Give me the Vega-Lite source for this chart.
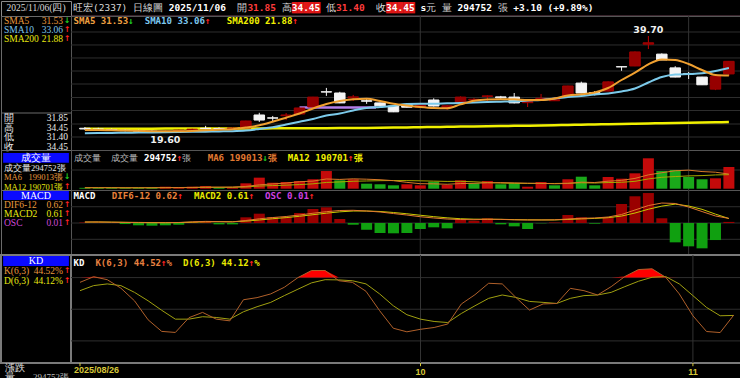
{
"$schema":"https://vega.github.io/schema/vega-lite/v6.json",
"background":"#000000",
"padding":0,
"spacing":0,
"bounds":"flush",
"columns":2,
"config":{"view":{"stroke":null},"concat":{"spacing":0}},
"datasets":{
"k":[
{"i":0,"o":20.6,"h":20.85,"l":20.3,"c":20.45,"v":12000,"vd":"d","s5":20.25,"s10":19.55,"s200":20.5,"m6":13000,"m12":14000,"dif":0.14,"mac":0.13,"osc":0.07,"K":75.5,"D":67.6,"kf":80},
{"i":1,"o":20.45,"h":20.7,"l":20.2,"c":20.35,"v":10000,"vd":"d","s5":20.22,"s10":19.6,"s200":20.5,"m6":13000,"m12":14000,"dif":0.14,"mac":0.14,"osc":0.07,"K":80.8,"D":72.4,"kf":80.8},
{"i":2,"o":20.35,"h":20.55,"l":20.05,"c":20.2,"v":14000,"vd":"d","s5":20.18,"s10":19.63,"s200":20.51,"m6":13000,"m12":14000,"dif":0.11,"mac":0.12,"osc":0.02,"K":78,"D":74,"kf":80},
{"i":3,"o":20.2,"h":20.4,"l":19.95,"c":20.1,"v":11000,"vd":"d","s5":20.12,"s10":19.67,"s200":20.51,"m6":12000,"m12":13000,"dif":0.08,"mac":0.1,"osc":-0.14,"K":70,"D":72.4,"kf":80},
{"i":4,"o":20.1,"h":20.3,"l":19.8,"c":20.0,"v":13000,"vd":"d","s5":20.06,"s10":19.7,"s200":20.52,"m6":12000,"m12":13000,"dif":0.05,"mac":0.08,"osc":-0.31,"K":58,"D":66,"kf":80},
{"i":5,"o":20.0,"h":20.2,"l":19.7,"c":19.85,"v":15000,"vd":"d","s5":20.0,"s10":19.74,"s200":20.52,"m6":12500,"m12":13000,"dif":0.04,"mac":0.06,"osc":-0.36,"K":40,"D":58,"kf":80},
{"i":6,"o":19.85,"h":20.15,"l":19.6,"c":19.95,"v":27000,"vd":"u","s5":19.97,"s10":19.78,"s200":20.53,"m6":15000,"m12":14000,"dif":0.04,"mac":0.05,"osc":-0.31,"K":29,"D":49,"kf":80},
{"i":7,"o":19.95,"h":20.3,"l":19.85,"c":20.2,"v":15000,"vd":"u","s5":19.98,"s10":19.82,"s200":20.53,"m6":16000,"m12":14500,"dif":0.07,"mac":0.06,"osc":-0.23,"K":28,"D":40.6,"kf":80},
{"i":8,"o":20.2,"h":20.5,"l":20.05,"c":20.4,"v":27000,"vd":"u","s5":20.05,"s10":19.86,"s200":20.54,"m6":18000,"m12":15500,"dif":0.16,"mac":0.11,"osc":0.14,"K":42,"D":40.6,"kf":80},
{"i":9,"o":20.6,"h":21.1,"l":20.4,"c":20.55,"v":36000,"vd":"u","s5":20.18,"s10":19.9,"s200":20.54,"m6":22000,"m12":17500,"dif":0.22,"mac":0.16,"osc":0.14,"K":47,"D":42.9,"kf":80},
{"i":10,"o":20.55,"h":20.8,"l":20.4,"c":20.5,"v":14000,"vd":"d","s5":20.3,"s10":19.95,"s200":20.55,"m6":22000,"m12":17500,"dif":0.19,"mac":0.18,"osc":-0.18,"K":40.6,"D":42.2,"kf":80},
{"i":11,"o":20.5,"h":20.75,"l":20.4,"c":20.65,"v":18000,"vd":"u","s5":20.42,"s10":20.0,"s200":20.55,"m6":23000,"m12":18000,"dif":0.16,"mac":0.17,"osc":-0.18,"K":39,"D":40.6,"kf":80},
{"i":12,"o":20.65,"h":22.15,"l":20.6,"c":22.1,"v":73000,"vd":"u","s5":20.75,"s10":20.14,"s200":20.56,"m6":31000,"m12":24000,"dif":0.34,"mac":0.26,"osc":0.77,"K":59,"D":47.6,"kf":80},
{"i":13,"o":23.35,"h":23.8,"l":21.9,"c":22.3,"v":150000,"vd":"u","s5":21.21,"s10":20.45,"s200":20.57,"m6":53000,"m12":36000,"dif":0.57,"mac":0.41,"osc":1.26,"K":61,"D":52.4,"kf":80},
{"i":14,"o":22.75,"h":23.15,"l":22.1,"c":22.7,"v":81000,"vd":"u","s5":21.96,"s10":20.8,"s200":20.58,"m6":65000,"m12":42000,"dif":0.74,"mac":0.58,"osc":0.81,"K":64.5,"D":56.5,"kf":80},
{"i":15,"o":23.2,"h":23.75,"l":22.3,"c":23.35,"v":91000,"vd":"u","s5":22.79,"s10":21.38,"s200":20.59,"m6":77000,"m12":48000,"dif":0.88,"mac":0.73,"osc":0.81,"K":70.8,"D":62.9,"kf":80},
{"i":16,"o":23.55,"h":24.85,"l":23.5,"c":24.8,"v":104000,"vd":"u","s5":23.65,"s10":21.96,"s200":20.6,"m6":95000,"m12":56000,"dif":1.08,"mac":0.91,"osc":1.35,"K":80,"D":69,"kf":80},
{"i":17,"o":25.0,"h":27.1,"l":24.9,"c":27.05,"v":128000,"vd":"u","s5":24.69,"s10":22.52,"s200":20.61,"m6":103000,"m12":66000,"dif":1.32,"mac":1.12,"osc":1.89,"K":86.7,"D":75,"kf":86.7},
{"i":18,"o":28.15,"h":28.95,"l":27.3,"c":28.1,"v":240000,"vd":"u","s5":25.62,"s10":23.24,"s200":20.62,"m6":132000,"m12":85000,"dif":1.53,"mac":1.33,"osc":2.12,"K":86.7,"D":78,"kf":86.7},
{"i":19,"o":27.9,"h":28.15,"l":25.8,"c":25.85,"v":114000,"vd":"d","s5":26.24,"s10":23.66,"s200":20.63,"m6":126000,"m12":92000,"dif":1.69,"mac":1.51,"osc":0.54,"K":77,"D":77.8,"kf":80},
{"i":20,"o":26.9,"h":27.5,"l":26.25,"c":27.1,"v":128000,"vd":"u","s5":26.59,"s10":24.28,"s200":20.64,"m6":134000,"m12":101000,"dif":1.72,"mac":1.62,"osc":-0.23,"K":75.5,"D":77,"kf":80},
{"i":21,"o":26.3,"h":26.65,"l":25.65,"c":26.2,"v":68000,"vd":"d","s5":26.7,"s10":24.79,"s200":20.66,"m6":129000,"m12":105000,"dif":1.62,"mac":1.62,"osc":-0.91,"K":67,"D":74,"kf":80},
{"i":22,"o":25.85,"h":25.9,"l":25.2,"c":25.25,"v":60000,"vd":"d","s5":26.24,"s10":25.0,"s200":20.7,"m6":122000,"m12":109000,"dif":1.49,"mac":1.56,"osc":-1.35,"K":48.6,"D":64.5,"kf":80},
{"i":23,"o":25.2,"h":25.25,"l":23.95,"c":24.0,"v":46000,"vd":"d","s5":25.68,"s10":25.21,"s200":20.74,"m6":109000,"m12":111000,"dif":1.28,"mac":1.42,"osc":-1.39,"K":32,"D":53.3,"kf":80},
{"i":24,"o":25.55,"h":25.6,"l":24.9,"c":24.95,"v":60000,"vd":"u","s5":25.31,"s10":25.62,"s200":20.78,"m6":86000,"m12":110000,"dif":1.08,"mac":1.25,"osc":-1.35,"K":28.6,"D":44.8,"kf":80},
{"i":25,"o":24.95,"h":25.45,"l":24.8,"c":25.35,"v":46000,"vd":"u","s5":25.0,"s10":25.68,"s200":20.82,"m6":68000,"m12":107000,"dif":0.85,"mac":1.05,"osc":-0.81,"K":31,"D":40.6,"kf":80},
{"i":26,"o":26.45,"h":26.8,"l":25.1,"c":25.2,"v":95000,"vd":"d","s5":24.79,"s10":25.68,"s200":20.86,"m6":66000,"m12":103000,"dif":0.68,"mac":0.86,"osc":-0.58,"K":32.7,"D":38.4,"kf":80},
{"i":27,"o":24.9,"h":25.4,"l":24.4,"c":25.25,"v":50000,"vd":"u","s5":24.73,"s10":25.77,"s200":20.9,"m6":60000,"m12":99000,"dif":0.54,"mac":0.7,"osc":-0.72,"K":36,"D":37.4,"kf":80},
{"i":28,"o":25.85,"h":27.2,"l":25.8,"c":27.05,"v":114000,"vd":"u","s5":25.54,"s10":25.83,"s200":20.94,"m6":70000,"m12":100000,"dif":0.47,"mac":0.58,"osc":0.54,"K":55,"D":46,"kf":80},
{"i":29,"o":26.45,"h":26.85,"l":26.05,"c":26.6,"v":73000,"vd":"d","s5":26.3,"s10":25.93,"s200":20.98,"m6":73000,"m12":94000,"dif":0.45,"mac":0.52,"osc":0.31,"K":63.8,"D":53.3,"kf":80},
{"i":30,"o":27.2,"h":27.4,"l":26.25,"c":27.3,"v":104000,"vd":"u","s5":26.55,"s10":26.03,"s200":21.02,"m6":80000,"m12":84000,"dif":0.51,"mac":0.51,"osc":0.64,"K":74.6,"D":60.3,"kf":80},
{"i":31,"o":27.1,"h":27.3,"l":26.7,"c":26.9,"v":60000,"vd":"d","s5":26.59,"s10":26.1,"s200":21.06,"m6":83000,"m12":76000,"dif":0.49,"mac":0.5,"osc":-0.18,"K":74,"D":63.5,"kf":80},
{"i":32,"o":27.05,"h":27.9,"l":25.75,"c":25.85,"v":73000,"vd":"d","s5":26.59,"s10":26.18,"s200":21.1,"m6":79000,"m12":73000,"dif":0.43,"mac":0.46,"osc":-0.45,"K":61.2,"D":61.2,"kf":80},
{"i":33,"o":25.9,"h":26.25,"l":25.0,"c":26.1,"v":27000,"vd":"u","s5":26.45,"s10":26.35,"s200":21.14,"m6":75000,"m12":71000,"dif":0.41,"mac":0.43,"osc":-0.81,"K":49.2,"D":57.4,"kf":80},
{"i":34,"o":26.6,"h":27.7,"l":26.25,"c":26.8,"v":91000,"vd":"u","s5":26.45,"s10":26.45,"s200":21.18,"m6":73000,"m12":71000,"dif":0.41,"mac":0.42,"osc":-0.04,"K":55,"D":56.5,"kf":80},
{"i":35,"o":26.3,"h":27.05,"l":26.25,"c":26.5,"v":46000,"vd":"d","s5":26.76,"s10":26.76,"s200":21.23,"m6":67000,"m12":71000,"dif":0.43,"mac":0.42,"osc":0.07,"K":55.5,"D":55.5,"kf":80},
{"i":36,"o":27.3,"h":29.4,"l":27.2,"c":29.35,"v":128000,"vd":"u","s5":27.38,"s10":27.07,"s200":21.28,"m6":71000,"m12":74000,"dif":0.54,"mac":0.48,"osc":1.08,"K":69.8,"D":60.3,"kf":80},
{"i":37,"o":29.95,"h":30.25,"l":27.85,"c":27.9,"v":163000,"vd":"d","s5":27.63,"s10":27.28,"s200":21.33,"m6":89000,"m12":80000,"dif":0.64,"mac":0.56,"osc":0.77,"K":67.6,"D":62.9,"kf":80},
{"i":38,"o":28.0,"h":28.3,"l":27.4,"c":27.6,"v":46000,"vd":"d","s5":28.0,"s10":27.59,"s200":21.38,"m6":84000,"m12":77000,"dif":0.68,"mac":0.62,"osc":-0.09,"K":63.5,"D":63.5,"kf":80},
{"i":39,"o":28.3,"h":30.3,"l":28.25,"c":30.2,"v":159000,"vd":"u","s5":28.93,"s10":27.8,"s200":21.43,"m6":102000,"m12":84000,"dif":0.81,"mac":0.72,"osc":0.77,"K":71.4,"D":66,"kf":80},
{"i":40,"o":33.35,"h":33.35,"l":32.5,"c":33.3,"v":136000,"vd":"u","s5":30.59,"s10":28.21,"s200":21.48,"m6":113000,"m12":87000,"dif":1.15,"mac":0.94,"osc":2.57,"K":81,"D":71.4,"kf":81},
{"i":41,"o":33.5,"h":36.5,"l":33.45,"c":36.4,"v":209000,"vd":"u","s5":32.1,"s10":28.83,"s200":21.53,"m6":140000,"m12":100000,"dif":1.76,"mac":1.35,"osc":3.61,"K":87.6,"D":76.5,"kf":87.6},
{"i":42,"o":38.0,"h":39.7,"l":37.0,"c":38.3,"v":413000,"vd":"u","s5":33.84,"s10":30.07,"s200":21.59,"m6":188000,"m12":133000,"dif":2.36,"mac":1.86,"osc":4.05,"K":88.3,"D":80.3,"kf":88.3},
{"i":43,"o":35.95,"h":36.1,"l":34.7,"c":34.75,"v":240000,"vd":"d","s5":34.83,"s10":31.21,"s200":21.64,"m6":217000,"m12":155000,"dif":2.7,"mac":2.28,"osc":0.64,"K":80.3,"D":81,"kf":80.3},
{"i":44,"o":33.1,"h":33.45,"l":31.15,"c":31.2,"v":254000,"vd":"d","s5":34.73,"s10":31.73,"s200":21.69,"m6":244000,"m12":165000,"dif":2.64,"mac":2.55,"osc":-2.61,"K":64.5,"D":74,"kf":80},
{"i":45,"o":31.95,"h":32.25,"l":30.8,"c":31.85,"v":159000,"vd":"d","s5":33.9,"s10":31.83,"s200":21.74,"m6":252000,"m12":174000,"dif":2.16,"mac":2.3,"osc":-3.15,"K":43.8,"D":62.9,"kf":80},
{"i":46,"o":31.2,"h":31.25,"l":29.55,"c":29.6,"v":128000,"vd":"d","s5":32.66,"s10":31.98,"s200":21.79,"m6":233000,"m12":178000,"dif":1.55,"mac":1.85,"osc":-3.42,"K":28.9,"D":51.7,"kf":80},
{"i":47,"o":28.7,"h":31.4,"l":28.5,"c":31.35,"v":141000,"vd":"u","s5":31.63,"s10":32.45,"s200":21.84,"m6":224000,"m12":187000,"dif":0.95,"mac":1.2,"osc":-2.3,"K":27.9,"D":43.8,"kf":80},
{"i":48,"o":31.85,"h":34.45,"l":31.4,"c":34.45,"v":294752,"vd":"u","s5":31.53,"s10":33.06,"s200":21.88,"m6":199013,"m12":190701,"dif":0.62,"mac":0.61,"osc":0.15,"K":44.52,"D":44.12,"kf":80}
],
"mo":[{"i":0,"t":"2025/08/26"},{"i":25,"t":"10"},{"i":45,"t":"11"}],
"hdrReg":[
{"k":"bg","t":"\u2060\u3000\u3000\u00a0\u00a0\u00a0\u00a0\u00a0\u00a0\u00a0\u3000\u3000\u3000\u00a0\u00a0\u00a0\u00a0\u00a0\u00a0\u00a0\u00a0\u00a0\u00a0\u00a0\u00a0\u00a0\u3000\u00a0\u00a0\u00a0\u00a0\u00a0\u00a0\u3000\u2588\u2588\u2588\u2588\u2588\u00a0\u3000\u00a0\u00a0\u00a0\u00a0\u00a0\u00a0\u00a0\u3000\u2588\u2588\u2588\u2588\u2588"},
{"k":"reg","t":"旺宏(2337)\u00a0日線圖\u00a0\u00a0\u00a0\u00a0\u00a0\u00a0\u00a0\u00a0\u00a0\u00a0\u00a0\u00a0\u00a0開\u00a0\u00a0\u00a0\u00a0\u00a0\u00a0高\u00a0\u00a0\u00a0\u00a0\u00a0\u00a0低\u00a0\u00a0\u00a0\u00a0\u00a0\u00a0\u00a0收\u00a0\u00a0\u00a0\u00a0\u00a0\u00a0\u00a0元\u00a0量\u00a0\u00a0\u00a0\u00a0\u00a0\u00a0\u00a0\u00a0張"}
],
"hdrBold":[
{"k":"bold","t":"\u2060\u3000\u3000\u00a0\u00a0\u00a0\u00a0\u00a0\u00a0\u00a0\u3000\u3000\u3000\u00a02025/11/06\u00a0\u00a0\u3000\u00a0\u00a0\u00a0\u00a0\u00a0\u00a0\u300034.45\u00a0\u3000\u00a0\u00a0\u00a0\u00a0\u00a0\u00a0\u00a0\u300034.45\u00a0s\u3000\u00a0\u3000\u00a0294752\u00a0\u3000\u00a0+3.10 (+9.89%)"},
{"k":"red","t":"\u2060\u3000\u3000\u00a0\u00a0\u00a0\u00a0\u00a0\u00a0\u00a0\u3000\u3000\u3000\u00a0\u00a0\u00a0\u00a0\u00a0\u00a0\u00a0\u00a0\u00a0\u00a0\u00a0\u00a0\u00a0\u300031.85\u00a0\u3000\u00a0\u00a0\u00a0\u00a0\u00a0\u00a0\u300031.40"}
],
"legP":[
{"k":"o","t":"SMA5 31.53"},
{"k":"gn","t":"\u2060\u00a0\u00a0\u00a0\u00a0\u00a0\u00a0\u00a0\u00a0\u00a0\u00a0\u2193"},
{"k":"b","t":"\u2060\u00a0\u00a0\u00a0\u00a0\u00a0\u00a0\u00a0\u00a0\u00a0\u00a0\u00a0\u00a0\u00a0SMA10 33.06"},
{"k":"r","t":"\u2060\u00a0\u00a0\u00a0\u00a0\u00a0\u00a0\u00a0\u00a0\u00a0\u00a0\u00a0\u00a0\u00a0\u00a0\u00a0\u00a0\u00a0\u00a0\u00a0\u00a0\u00a0\u00a0\u00a0\u00a0\u2191\u00a0\u00a0\u00a0\u00a0\u00a0\u00a0\u00a0\u00a0\u00a0\u00a0\u00a0\u00a0\u00a0\u00a0\u00a0\u2191"},
{"k":"y","t":"\u2060\u00a0\u00a0\u00a0\u00a0\u00a0\u00a0\u00a0\u00a0\u00a0\u00a0\u00a0\u00a0\u00a0\u00a0\u00a0\u00a0\u00a0\u00a0\u00a0\u00a0\u00a0\u00a0\u00a0\u00a0\u00a0\u00a0\u00a0\u00a0SMA200 21.88"}
],
"legVr":[
{"k":"gy","t":"成交量\u00a0\u00a0成交量\u00a0\u00a0\u00a0\u00a0\u00a0\u00a0\u00a0\u00a0張"}
],
"legVb":[
{"k":"w","t":"\u2060\u3000\u3000\u3000\u00a0\u00a0\u3000\u3000\u3000\u00a0294752"},
{"k":"r","t":"\u2060\u3000\u3000\u3000\u00a0\u00a0\u3000\u3000\u3000\u00a0\u00a0\u00a0\u00a0\u00a0\u00a0\u00a0\u2191\u3000\u00a0\u00a0\u00a0\u00a0\u00a0\u00a0\u00a0\u00a0\u00a0\u00a0\u00a0\u00a0\u00a0\u00a0\u3000\u00a0\u00a0\u00a0\u00a0\u00a0\u00a0\u00a0\u00a0\u00a0\u00a0\u00a0\u00a0\u00a0\u2191"},
{"k":"o","t":"\u2060\u3000\u3000\u3000\u00a0\u00a0\u3000\u3000\u3000\u00a0\u00a0\u00a0\u00a0\u00a0\u00a0\u00a0\u00a0\u3000\u00a0\u00a0\u00a0MA6 199013\u00a0張"},
{"k":"gn","t":"\u2060\u3000\u3000\u3000\u00a0\u00a0\u3000\u3000\u3000\u00a0\u00a0\u00a0\u00a0\u00a0\u00a0\u00a0\u00a0\u3000\u00a0\u00a0\u00a0\u00a0\u00a0\u00a0\u00a0\u00a0\u00a0\u00a0\u00a0\u00a0\u00a0\u2193"},
{"k":"y","t":"\u2060\u3000\u3000\u3000\u00a0\u00a0\u3000\u3000\u3000\u00a0\u00a0\u00a0\u00a0\u00a0\u00a0\u00a0\u00a0\u3000\u00a0\u00a0\u00a0\u00a0\u00a0\u00a0\u00a0\u00a0\u00a0\u00a0\u00a0\u00a0\u00a0\u00a0\u3000\u00a0\u00a0MA12 190701\u00a0張"}
],
"legM":[
{"k":"w","t":"MACD"},
{"k":"o","t":"\u2060\u00a0\u00a0\u00a0\u00a0\u00a0\u00a0\u00a0DIF6-12 0.62"},
{"k":"r","t":"\u2060\u00a0\u00a0\u00a0\u00a0\u00a0\u00a0\u00a0\u00a0\u00a0\u00a0\u00a0\u00a0\u00a0\u00a0\u00a0\u00a0\u00a0\u00a0\u00a0\u2191\u00a0\u00a0\u00a0\u00a0\u00a0\u00a0\u00a0\u00a0\u00a0\u00a0\u00a0\u00a0\u2191\u00a0\u00a0\u00a0\u00a0\u00a0\u00a0\u00a0\u00a0\u00a0\u00a0\u2191"},
{"k":"y","t":"\u2060\u00a0\u00a0\u00a0\u00a0\u00a0\u00a0\u00a0\u00a0\u00a0\u00a0\u00a0\u00a0\u00a0\u00a0\u00a0\u00a0\u00a0\u00a0\u00a0\u00a0\u00a0\u00a0MACD2 0.61"},
{"k":"m","t":"\u2060\u00a0\u00a0\u00a0\u00a0\u00a0\u00a0\u00a0\u00a0\u00a0\u00a0\u00a0\u00a0\u00a0\u00a0\u00a0\u00a0\u00a0\u00a0\u00a0\u00a0\u00a0\u00a0\u00a0\u00a0\u00a0\u00a0\u00a0\u00a0\u00a0\u00a0\u00a0\u00a0\u00a0\u00a0\u00a0OSC 0.01"}
],
"legK":[
{"k":"w","t":"KD"},
{"k":"o","t":"\u2060\u00a0\u00a0\u00a0\u00a0K(6,3) 44.52\u00a0%"},
{"k":"r","t":"\u2060\u00a0\u00a0\u00a0\u00a0\u00a0\u00a0\u00a0\u00a0\u00a0\u00a0\u00a0\u00a0\u00a0\u00a0\u00a0\u00a0\u2191\u00a0\u00a0\u00a0\u00a0\u00a0\u00a0\u00a0\u00a0\u00a0\u00a0\u00a0\u00a0\u00a0\u00a0\u00a0\u2191"},
{"k":"y","t":"\u2060\u00a0\u00a0\u00a0\u00a0\u00a0\u00a0\u00a0\u00a0\u00a0\u00a0\u00a0\u00a0\u00a0\u00a0\u00a0\u00a0\u00a0\u00a0\u00a0\u00a0D(6,3) 44.12\u00a0%"}
]
},
"concat":[
 {"width":70,"height":15,"view":{"stroke":"#8a8a8a"},
  "data":{"values":[{"t":"2025/11/06(四)"}]},
  "mark":{"type":"text","font":"Liberation Serif","fontSize":9.5,"color":"#d8d8d8","align":"center","baseline":"middle","dy":-0.5},
  "encoding":{"x":{"datum":0.5,"type":"quantitative","scale":{"domain":[0,1],"nice":false,"zero":false},"axis":null},
   "y":{"datum":0.5,"type":"quantitative","scale":{"domain":[0,1],"nice":false,"zero":false},"axis":null},
   "text":{"field":"t"}}},
 {"width":670,"height":15,
  "layer":[
   {"data":{"values":[{"z":0}]},"mark":{"type":"rule","color":"#704858","strokeWidth":1},
    "encoding":{"y":{"datum":0,"type":"quantitative","scale":{"domain":[0,1],"nice":false,"zero":false},"axis":null}}},
   {"data":{"name":"hdrReg"},"mark":{"type":"text","font":"DejaVu Sans Mono","fontSize":9.5,"align":"left","baseline":"middle","dx":2,"dy":-0.5},
    "encoding":{"x":{"datum":0,"type":"quantitative","scale":{"domain":[0,1],"nice":false,"zero":false},"axis":null},
     "y":{"datum":0.5,"type":"quantitative","scale":{"domain":[0,1],"nice":false,"zero":false},"axis":null},
     "text":{"field":"t"},
     "color":{"field":"k","type":"nominal","scale":{"domain":["bg","reg","bold","red"],"range":["#e01818","#d8d8d8","#ffffff","#ff3c3c"]},"legend":null}}},
   {"data":{"name":"hdrBold"},"mark":{"type":"text","font":"DejaVu Sans Mono","fontSize":9.5,"fontWeight":"bold","align":"left","baseline":"middle","dx":2,"dy":-0.5},
    "encoding":{"x":{"datum":0,"type":"quantitative","scale":{"domain":[0,1],"nice":false,"zero":false},"axis":null},
     "y":{"datum":0.5,"type":"quantitative","scale":{"domain":[0,1],"nice":false,"zero":false},"axis":null},
     "text":{"field":"t"},
     "color":{"field":"k","type":"nominal","scale":{"domain":["bg","reg","bold","red"],"range":["#e01818","#d8d8d8","#ffffff","#ff3c3c"]},"legend":null}}}
  ]},
 {"width":70,"height":134,"view":{"stroke":"#6a6a6a"},
  "layer":[
   {"data":{"values":[{"r":"SMA5","lab":"SMA5","val":"31.53","a":"↓","k":"o"},{"r":"SMA10","lab":"SMA10","val":"33.06","a":"↑","k":"b"},{"r":"SMA200","lab":"SMA200","val":"21.88","a":"↑","k":"y"}]},
    "encoding":{"y":{"field":"r","type":"nominal","sort":null,"scale":{"type":"band","domain":["SMA5","SMA10","SMA200"],"range":[0,27],"paddingInner":0,"paddingOuter":0},"axis":null}},
    "layer":[
     {"mark":{"type":"text","align":"left","baseline":"middle","dx":3,"font":"Liberation Serif","fontSize":9.5},
      "encoding":{"x":{"datum":0,"type":"quantitative","scale":{"domain":[0,1],"nice":false,"zero":false},"axis":null},"text":{"field":"lab"},
       "color":{"condition":[{"test":"datum.k=='o'","value":"#e8983c"},{"test":"datum.k=='b'","value":"#7cc4ec"},{"test":"datum.k=='y'","value":"#e8e810"},{"test":"datum.k=='m'","value":"#d048d8"}],"value":"#e8e8e8"}}},
     {"mark":{"type":"text","align":"right","baseline":"middle","dx":-8,"font":"Liberation Serif","fontSize":9.5},
      "encoding":{"x":{"datum":1,"type":"quantitative"},"text":{"field":"val"},
       "color":{"condition":[{"test":"datum.k=='o'","value":"#e8983c"},{"test":"datum.k=='b'","value":"#7cc4ec"},{"test":"datum.k=='y'","value":"#e8e810"},{"test":"datum.k=='m'","value":"#d048d8"}],"value":"#e8e8e8"}}},
     {"mark":{"type":"text","align":"center","baseline":"middle","dx":-4,"font":"DejaVu Sans","fontSize":8,"fontWeight":"bold"},
      "encoding":{"x":{"datum":1,"type":"quantitative"},"text":{"field":"a"},
       "color":{"condition":{"test":"datum.a=='↑'","value":"#ff2020"},"value":"#20d020"}}}
    ]},
   {"data":{"values":[{"r":"1","lab":"開","val":"31.85"},{"r":"2","lab":"高","val":"34.45"},{"r":"3","lab":"低","val":"31.40"},{"r":"4","lab":"收","val":"34.45"}]},
    "encoding":{"y":{"field":"r","type":"nominal","sort":null,"scale":{"type":"band","domain":["1","2","3","4"],"range":[97,136],"paddingInner":0,"paddingOuter":0},"axis":null}},
    "layer":[
     {"transform":[{"filter":"datum.r=='1'"}],"mark":{"type":"rule","color":"#6a6a6a","strokeWidth":1},
      "encoding":{"y":{"field":"r","type":"nominal","bandPosition":0}}},
     {"mark":{"type":"text","align":"left","baseline":"middle","dx":3,"font":"Liberation Serif","fontSize":9.5,"color":"#e8e8e8"},
      "encoding":{"x":{"datum":0,"type":"quantitative","scale":{"domain":[0,1],"nice":false,"zero":false},"axis":null},"text":{"field":"lab"}}},
     {"mark":{"type":"text","align":"right","baseline":"middle","dx":-3,"font":"Liberation Serif","fontSize":9.5,"color":"#e8e8e8"},
      "encoding":{"x":{"datum":1,"type":"quantitative"},"text":{"field":"val"}}}
    ]}
  ],
  "resolve":{"scale":{"y":"independent"}}},
 {"width":670,"height":134,"view":{"stroke":"#555555"},
  "layer":[
   {"layer":[
    {"data":{"values":[{"p":40.53},{"p":37.84},{"p":35.15},{"p":32.45},{"p":29.76},{"p":26.97},{"p":24.28},{"p":21.48},{"p":18.79}]},
     "mark":{"type":"rule","color":"#2e2e2e","strokeWidth":1},
     "encoding":{"y":{"field":"p","type":"quantitative","scale":{"domain":[16.1,43.84],"nice":false,"zero":false},"axis":null}}},
    {"data":{"name":"mo"},"transform":[{"filter":"datum.i>0"}],
     "mark":{"type":"rule","color":"#333333","strokeWidth":1},
     "encoding":{"x":{"field":"i","type":"quantitative","scale":{"domain":[-0.661,48.53],"nice":false,"zero":false},"axis":null}}},
    {"data":{"name":"k"},"mark":{"type":"line","color":"#f0f000","strokeWidth":2.5,"interpolate":"monotone"},
     "encoding":{"x":{"field":"i","type":"quantitative","scale":{"domain":[-0.661,48.53],"nice":false,"zero":false},"axis":null},
      "y":{"field":"s200","type":"quantitative","scale":{"domain":[16.1,43.84],"nice":false,"zero":false},"axis":null}}},
    {"data":{"values":[{"i":16.0,"i2":21.7,"p":24.9}]},"mark":{"type":"rule","color":"#b57ee8","strokeWidth":2.5},
     "encoding":{"x":{"field":"i","type":"quantitative","scale":{"domain":[-0.661,48.53],"nice":false,"zero":false},"axis":null},"x2":{"field":"i2"},
      "y":{"field":"p","type":"quantitative","scale":{"domain":[16.1,43.84],"nice":false,"zero":false},"axis":null}}},
    {"data":{"name":"k"},"mark":{"type":"rule","strokeWidth":1},
     "encoding":{"x":{"field":"i","type":"quantitative","scale":{"domain":[-0.661,48.53],"nice":false,"zero":false},"axis":null},
      "y":{"field":"l","type":"quantitative","scale":{"domain":[16.1,43.84],"nice":false,"zero":false},"axis":null},"y2":{"field":"h"},
      "color":{"condition":{"test":"datum.c>=datum.o","value":"#c00000"},"value":"#f4f4f4"}}},
    {"data":{"name":"k"},"mark":{"type":"bar","width":10.5,"strokeWidth":1},
     "encoding":{"x":{"field":"i","type":"quantitative","scale":{"domain":[-0.661,48.53],"nice":false,"zero":false},"axis":null},
      "y":{"field":"o","type":"quantitative","scale":{"domain":[16.1,43.84],"nice":false,"zero":false},"axis":null},"y2":{"field":"c"},
      "fill":{"condition":{"test":"datum.c>=datum.o","value":"#960000"},"value":"#f4f4f4"},
      "stroke":{"condition":{"test":"datum.c>=datum.o","value":"#a00000"},"value":"#f4f4f4"}}},
    {"data":{"name":"k"},"mark":{"type":"line","color":"#7ccaea","strokeWidth":2,"interpolate":"monotone"},
     "encoding":{"x":{"field":"i","type":"quantitative","scale":{"domain":[-0.661,48.53],"nice":false,"zero":false},"axis":null},
      "y":{"field":"s10","type":"quantitative","scale":{"domain":[16.1,43.84],"nice":false,"zero":false},"axis":null}}},
    {"data":{"name":"k"},"mark":{"type":"line","color":"#f0a030","strokeWidth":2,"interpolate":"monotone"},
     "encoding":{"x":{"field":"i","type":"quantitative","scale":{"domain":[-0.661,48.53],"nice":false,"zero":false},"axis":null},
      "y":{"field":"s5","type":"quantitative","scale":{"domain":[16.1,43.84],"nice":false,"zero":false},"axis":null}}},
    {"data":{"values":[{"i":42,"p":39.7,"t":"39.70"}]},"mark":{"type":"text","color":"#f0f0f0","font":"DejaVu Sans","fontSize":9.5,"fontWeight":"bold","baseline":"middle","dy":-6},
     "encoding":{"x":{"field":"i","type":"quantitative","scale":{"domain":[-0.661,48.53],"nice":false,"zero":false},"axis":null},
      "y":{"field":"p","type":"quantitative","scale":{"domain":[16.1,43.84],"nice":false,"zero":false},"axis":null},"text":{"field":"t"}}},
    {"data":{"values":[{"i":6,"p":19.6,"t":"19.60"}]},"mark":{"type":"text","color":"#f0f0f0","font":"DejaVu Sans","fontSize":9.5,"fontWeight":"bold","baseline":"middle","dy":7},
     "encoding":{"x":{"field":"i","type":"quantitative","scale":{"domain":[-0.661,48.53],"nice":false,"zero":false},"axis":null},
      "y":{"field":"p","type":"quantitative","scale":{"domain":[16.1,43.84],"nice":false,"zero":false},"axis":null},"text":{"field":"t"}}}
   ]},
   {"data":{"name":"legP"},"mark":{"type":"text","align":"left","baseline":"middle","dx":2.5,"dy":4.5,"font":"DejaVu Sans Mono","fontSize":9.1,"fontWeight":"bold"},
    "encoding":{"x":{"datum":0,"type":"quantitative","scale":{"domain":[0,1],"nice":false,"zero":false},"axis":null},
     "y":{"datum":1,"type":"quantitative","scale":{"domain":[0,1],"nice":false,"zero":false},"axis":null},
     "text":{"field":"t"},
     "color":{"field":"k","type":"nominal","scale":{"domain":["o","b","y","w","m","gn","r","gy"],"range":["#f0a040","#7cc8f0","#f0f000","#ffffff","#d848e8","#20d020","#ff2020","#b8b8b8"]},"legend":null}}}
  ],
  "resolve":{"scale":{"x":"independent","y":"independent","color":"independent"}}},
 {"width":70,"height":40,"view":{"stroke":"#6a6a6a"},
  "data":{"values":[{"r":"h","lab":"成交量","val":"","a":"","k":"w"},{"r":"v","lab":"成交量294752張","val":"","a":"","k":"w"},{"r":"m6","lab":"MA6","val":"199013張","a":"↓","k":"o"},{"r":"m12","lab":"MA12","val":"190701張","a":"↑","k":"y"}]},
  "encoding":{"y":{"field":"r","type":"nominal","sort":null,"scale":{"type":"band","domain":["h","v","m6","m12"],"range":[3,42],"paddingInner":0,"paddingOuter":0},"axis":null}},
  "layer":[
   {"transform":[{"filter":"datum.r=='h'"}],"mark":{"type":"rect","color":"#0a0aff"},
    "encoding":{"x":{"datum":0.03,"type":"quantitative","scale":{"domain":[0,1],"nice":false,"zero":false},"axis":null},"x2":{"datum":0.97}}},
   {"transform":[{"filter":"datum.r=='h'"}],"mark":{"type":"text","align":"center","baseline":"middle","font":"Liberation Serif","fontSize":10,"color":"#ffffff"},
    "encoding":{"x":{"datum":0.5,"type":"quantitative"},"text":{"field":"lab"}}},
   {"transform":[{"filter":"datum.r!='h'"}],"mark":{"type":"text","align":"left","baseline":"middle","dx":3,"font":"Liberation Serif","fontSize":8.5},
    "encoding":{"x":{"datum":0,"type":"quantitative"},"text":{"field":"lab"},
     "color":{"condition":[{"test":"datum.k=='o'","value":"#e8983c"},{"test":"datum.k=='b'","value":"#7cc4ec"},{"test":"datum.k=='y'","value":"#e8e810"},{"test":"datum.k=='m'","value":"#d048d8"}],"value":"#e8e8e8"}}},
   {"transform":[{"filter":"datum.r!='h'"}],"mark":{"type":"text","align":"right","baseline":"middle","dx":-8,"font":"Liberation Serif","fontSize":8.5},
    "encoding":{"x":{"datum":1,"type":"quantitative"},"text":{"field":"val"},
     "color":{"condition":[{"test":"datum.k=='o'","value":"#e8983c"},{"test":"datum.k=='b'","value":"#7cc4ec"},{"test":"datum.k=='y'","value":"#e8e810"},{"test":"datum.k=='m'","value":"#d048d8"}],"value":"#e8e8e8"}}},
   {"transform":[{"filter":"datum.r!='h'"}],"mark":{"type":"text","align":"center","baseline":"middle","dx":-4,"font":"DejaVu Sans","fontSize":8,"fontWeight":"bold"},
    "encoding":{"x":{"datum":1,"type":"quantitative"},"text":{"field":"a"},
     "color":{"condition":{"test":"datum.a=='↑'","value":"#ff2020"},"value":"#20d020"}}}
  ]},
 {"width":670,"height":40,"view":{"stroke":"#555555"},
  "layer":[
   {"layer":[
    {"data":{"values":[{"p":254000}]},"mark":{"type":"rule","color":"#2e2e2e","strokeWidth":1},
     "encoding":{"y":{"field":"p","type":"quantitative","scale":{"domain":[-17660,525700],"nice":false,"zero":false},"axis":null}}},
    {"data":{"name":"mo"},"transform":[{"filter":"datum.i>0"}],
     "mark":{"type":"rule","color":"#333333","strokeWidth":1},
     "encoding":{"x":{"field":"i","type":"quantitative","scale":{"domain":[-0.661,48.53],"nice":false,"zero":false},"axis":null}}},
    {"data":{"name":"k"},"mark":{"type":"bar","width":11},
     "encoding":{"x":{"field":"i","type":"quantitative","scale":{"domain":[-0.661,48.53],"nice":false,"zero":false},"axis":null},
      "y":{"field":"v","type":"quantitative","scale":{"domain":[-17660,525700],"nice":false,"zero":false},"axis":null},"y2":{"datum":0},
      "color":{"field":"vd","type":"nominal","scale":{"domain":["u","d"],"range":["#c40a0a","#1aa81a"]},"legend":null}}},
    {"data":{"name":"k"},"mark":{"type":"line","color":"#a8a800","strokeWidth":1},
     "encoding":{"x":{"field":"i","type":"quantitative","scale":{"domain":[-0.661,48.53],"nice":false,"zero":false},"axis":null},
      "y":{"field":"m12","type":"quantitative","scale":{"domain":[-17660,525700],"nice":false,"zero":false},"axis":null}}},
    {"data":{"name":"k"},"mark":{"type":"line","color":"#d87a28","strokeWidth":1},
     "encoding":{"x":{"field":"i","type":"quantitative","scale":{"domain":[-0.661,48.53],"nice":false,"zero":false},"axis":null},
      "y":{"field":"m6","type":"quantitative","scale":{"domain":[-17660,525700],"nice":false,"zero":false},"axis":null}}}
   ]},
   {"data":{"name":"legVr"},"mark":{"type":"text","align":"left","baseline":"middle","dx":2.5,"dy":8,"font":"DejaVu Sans Mono","fontSize":9.1},
    "encoding":{"x":{"datum":0,"type":"quantitative","scale":{"domain":[0,1],"nice":false,"zero":false},"axis":null},
     "y":{"datum":1,"type":"quantitative","scale":{"domain":[0,1],"nice":false,"zero":false},"axis":null},
     "text":{"field":"t"},
     "color":{"field":"k","type":"nominal","scale":{"domain":["o","b","y","w","m","gn","r","gy"],"range":["#e07830","#7cc8f0","#f0f000","#ffffff","#d848e8","#20d020","#ff2020","#b8b8b8"]},"legend":null}}},
   {"data":{"name":"legVb"},"mark":{"type":"text","align":"left","baseline":"middle","dx":2.5,"dy":8,"font":"DejaVu Sans Mono","fontSize":9.1,"fontWeight":"bold"},
    "encoding":{"x":{"datum":0,"type":"quantitative","scale":{"domain":[0,1],"nice":false,"zero":false},"axis":null},
     "y":{"datum":1,"type":"quantitative","scale":{"domain":[0,1],"nice":false,"zero":false},"axis":null},
     "text":{"field":"t"},
     "color":{"field":"k","type":"nominal","scale":{"domain":["o","b","y","w","m","gn","r","gy"],"range":["#e07830","#7cc8f0","#f0f000","#ffffff","#d848e8","#20d020","#ff2020","#b8b8b8"]},"legend":null}}}
  ],
  "resolve":{"scale":{"x":"independent","y":"independent","color":"independent"}}},
 {"width":70,"height":65,"view":{"stroke":"#6a6a6a"},
  "data":{"values":[{"r":"h","lab":"MACD","val":"","a":"","k":"w"},{"r":"d","lab":"DIF6-12","val":"0.62","a":"↑","k":"o"},{"r":"m","lab":"MACD2","val":"0.61","a":"↑","k":"y"},{"r":"s","lab":"OSC","val":"0.01","a":"↑","k":"m"}]},
  "encoding":{"y":{"field":"r","type":"nominal","sort":null,"scale":{"type":"band","domain":["h","d","m","s"],"range":[1,37],"paddingInner":0,"paddingOuter":0},"axis":null}},
  "layer":[
   {"transform":[{"filter":"datum.r=='h'"}],"mark":{"type":"rect","color":"#0a0aff"},
    "encoding":{"x":{"datum":0.03,"type":"quantitative","scale":{"domain":[0,1],"nice":false,"zero":false},"axis":null},"x2":{"datum":0.97}}},
   {"transform":[{"filter":"datum.r=='h'"}],"mark":{"type":"text","align":"center","baseline":"middle","font":"Liberation Serif","fontSize":10,"color":"#ffffff"},
    "encoding":{"x":{"datum":0.5,"type":"quantitative"},"text":{"field":"lab"}}},
   {"transform":[{"filter":"datum.r!='h'"}],"mark":{"type":"text","align":"left","baseline":"middle","dx":3,"font":"Liberation Serif","fontSize":9.5},
    "encoding":{"x":{"datum":0,"type":"quantitative"},"text":{"field":"lab"},
     "color":{"condition":[{"test":"datum.k=='o'","value":"#e8983c"},{"test":"datum.k=='b'","value":"#7cc4ec"},{"test":"datum.k=='y'","value":"#e8e810"},{"test":"datum.k=='m'","value":"#d048d8"}],"value":"#e8e8e8"}}},
   {"transform":[{"filter":"datum.r!='h'"}],"mark":{"type":"text","align":"right","baseline":"middle","dx":-8,"font":"Liberation Serif","fontSize":9.5},
    "encoding":{"x":{"datum":1,"type":"quantitative"},"text":{"field":"val"},
     "color":{"condition":[{"test":"datum.k=='o'","value":"#e8983c"},{"test":"datum.k=='b'","value":"#7cc4ec"},{"test":"datum.k=='y'","value":"#e8e810"},{"test":"datum.k=='m'","value":"#d048d8"}],"value":"#e8e8e8"}}},
   {"transform":[{"filter":"datum.r!='h'"}],"mark":{"type":"text","align":"center","baseline":"middle","dx":-4,"font":"DejaVu Sans","fontSize":8,"fontWeight":"bold"},
    "encoding":{"x":{"datum":1,"type":"quantitative"},"text":{"field":"a"},
     "color":{"condition":{"test":"datum.a=='↑'","value":"#ff2020"},"value":"#20d020"}}}
  ]},
 {"width":670,"height":65,"view":{"stroke":"#555555"},
  "layer":[
   {"layer":[
    {"data":{"values":[{"p":2.2},{"p":0},{"p":-2.2}]},"mark":{"type":"rule","color":"#2e2e2e","strokeWidth":1},
     "encoding":{"y":{"field":"p","type":"quantitative","scale":{"domain":[-4.32,4.46],"nice":false,"zero":false},"axis":null}}},
    {"data":{"name":"mo"},"transform":[{"filter":"datum.i>0"}],
     "mark":{"type":"rule","color":"#333333","strokeWidth":1},
     "encoding":{"x":{"field":"i","type":"quantitative","scale":{"domain":[-0.661,48.53],"nice":false,"zero":false},"axis":null}}},
    {"data":{"name":"k"},"mark":{"type":"bar","width":11},
     "encoding":{"x":{"field":"i","type":"quantitative","scale":{"domain":[-0.661,48.53],"nice":false,"zero":false},"axis":null},
      "y":{"field":"osc","type":"quantitative","scale":{"domain":[-4.32,4.46],"nice":false,"zero":false},"axis":null},"y2":{"datum":0},
      "color":{"condition":{"test":"datum.osc>=0","value":"#9a0000"},"value":"#10a010"}}},
    {"data":{"name":"k"},"mark":{"type":"line","color":"#c8c800","strokeWidth":1},
     "encoding":{"x":{"field":"i","type":"quantitative","scale":{"domain":[-0.661,48.53],"nice":false,"zero":false},"axis":null},
      "y":{"field":"mac","type":"quantitative","scale":{"domain":[-4.32,4.46],"nice":false,"zero":false},"axis":null}}},
    {"data":{"name":"k"},"mark":{"type":"line","color":"#e07830","strokeWidth":1},
     "encoding":{"x":{"field":"i","type":"quantitative","scale":{"domain":[-0.661,48.53],"nice":false,"zero":false},"axis":null},
      "y":{"field":"dif","type":"quantitative","scale":{"domain":[-4.32,4.46],"nice":false,"zero":false},"axis":null}}}
   ]},
   {"data":{"name":"legM"},"mark":{"type":"text","align":"left","baseline":"middle","dx":2.5,"dy":6,"font":"DejaVu Sans Mono","fontSize":9.1,"fontWeight":"bold"},
    "encoding":{"x":{"datum":0,"type":"quantitative","scale":{"domain":[0,1],"nice":false,"zero":false},"axis":null},
     "y":{"datum":1,"type":"quantitative","scale":{"domain":[0,1],"nice":false,"zero":false},"axis":null},
     "text":{"field":"t"},
     "color":{"field":"k","type":"nominal","scale":{"domain":["o","b","y","w","m","gn","r","gy"],"range":["#e8803a","#7cc8f0","#e8e800","#ffffff","#d040e0","#20d020","#ff2020","#b8b8b8"]},"legend":null}}}
  ],
  "resolve":{"scale":{"x":"independent","y":"independent","color":"independent"}}},
 {"width":70,"height":108,"view":{"stroke":"#7a7a7a","strokeWidth":2},
  "data":{"values":[{"r":"h","lab":"KD","val":"","a":"","k":"w"},{"r":"k","lab":"K(6,3)","val":"44.52%","a":"↑","k":"o"},{"r":"d","lab":"D(6,3)","val":"44.12%","a":"↑","k":"y"}]},
  "encoding":{"y":{"field":"r","type":"nominal","sort":null,"scale":{"type":"band","domain":["h","k","d"],"range":[1,31],"paddingInner":0,"paddingOuter":0},"axis":null}},
  "layer":[
   {"transform":[{"filter":"datum.r=='h'"}],"mark":{"type":"rect","color":"#0a0aff"},
    "encoding":{"x":{"datum":0.03,"type":"quantitative","scale":{"domain":[0,1],"nice":false,"zero":false},"axis":null},"x2":{"datum":0.97}}},
   {"transform":[{"filter":"datum.r=='h'"}],"mark":{"type":"text","align":"center","baseline":"middle","font":"Liberation Serif","fontSize":10,"color":"#ffffff"},
    "encoding":{"x":{"datum":0.5,"type":"quantitative"},"text":{"field":"lab"}}},
   {"transform":[{"filter":"datum.r!='h'"}],"mark":{"type":"text","align":"left","baseline":"middle","dx":3,"font":"Liberation Serif","fontSize":9.5},
    "encoding":{"x":{"datum":0,"type":"quantitative"},"text":{"field":"lab"},
     "color":{"condition":[{"test":"datum.k=='o'","value":"#e8983c"},{"test":"datum.k=='b'","value":"#7cc4ec"},{"test":"datum.k=='y'","value":"#e8e810"},{"test":"datum.k=='m'","value":"#d048d8"}],"value":"#e8e8e8"}}},
   {"transform":[{"filter":"datum.r!='h'"}],"mark":{"type":"text","align":"right","baseline":"middle","dx":-8,"font":"Liberation Serif","fontSize":9.5},
    "encoding":{"x":{"datum":1,"type":"quantitative"},"text":{"field":"val"},
     "color":{"condition":[{"test":"datum.k=='o'","value":"#e8983c"},{"test":"datum.k=='b'","value":"#7cc4ec"},{"test":"datum.k=='y'","value":"#e8e810"},{"test":"datum.k=='m'","value":"#d048d8"}],"value":"#e8e8e8"}}},
   {"transform":[{"filter":"datum.r!='h'"}],"mark":{"type":"text","align":"center","baseline":"middle","dx":-4,"font":"DejaVu Sans","fontSize":8,"fontWeight":"bold"},
    "encoding":{"x":{"datum":1,"type":"quantitative"},"text":{"field":"a"},
     "color":{"condition":{"test":"datum.a=='↑'","value":"#ff2020"},"value":"#20d020"}}}
  ]},
 {"width":670,"height":108,"view":{"stroke":"#7a7a7a","strokeWidth":2},
  "layer":[
   {"layer":[
    {"data":{"values":[{"p":20},{"p":50},{"p":80}]},"mark":{"type":"rule","color":"#2e2e2e","strokeWidth":1},
     "encoding":{"y":{"field":"p","type":"quantitative","scale":{"domain":[-0.95,101.4],"nice":false,"zero":false},"axis":null}}},
    {"data":{"name":"mo"},"transform":[{"filter":"datum.i>0"}],
     "mark":{"type":"rule","color":"#333333","strokeWidth":1},
     "encoding":{"x":{"field":"i","type":"quantitative","scale":{"domain":[-0.661,48.53],"nice":false,"zero":false},"axis":null}}},
    {"data":{"name":"k"},"mark":{"type":"area","color":"#ff0000"},
     "encoding":{"x":{"field":"i","type":"quantitative","scale":{"domain":[-0.661,48.53],"nice":false,"zero":false},"axis":null},
      "y":{"field":"kf","type":"quantitative","scale":{"domain":[-0.95,101.4],"nice":false,"zero":false},"axis":null},"y2":{"datum":80}}},
    {"data":{"name":"k"},"mark":{"type":"line","color":"#a0a010","strokeWidth":1},
     "encoding":{"x":{"field":"i","type":"quantitative","scale":{"domain":[-0.661,48.53],"nice":false,"zero":false},"axis":null},
      "y":{"field":"D","type":"quantitative","scale":{"domain":[-0.95,101.4],"nice":false,"zero":false},"axis":null}}},
    {"data":{"name":"k"},"mark":{"type":"line","color":"#b0602a","strokeWidth":1},
     "encoding":{"x":{"field":"i","type":"quantitative","scale":{"domain":[-0.661,48.53],"nice":false,"zero":false},"axis":null},
      "y":{"field":"K","type":"quantitative","scale":{"domain":[-0.95,101.4],"nice":false,"zero":false},"axis":null}}}
   ]},
   {"data":{"name":"legK"},"mark":{"type":"text","align":"left","baseline":"middle","dx":2.5,"dy":8,"font":"DejaVu Sans Mono","fontSize":9.1,"fontWeight":"bold"},
    "encoding":{"x":{"datum":0,"type":"quantitative","scale":{"domain":[0,1],"nice":false,"zero":false},"axis":null},
     "y":{"datum":1,"type":"quantitative","scale":{"domain":[0,1],"nice":false,"zero":false},"axis":null},
     "text":{"field":"t"},
     "color":{"field":"k","type":"nominal","scale":{"domain":["o","b","y","w","m","gn","r","gy"],"range":["#e88040","#7cc8f0","#e8e800","#ffffff","#d040e0","#20d020","#ff2020","#b8b8b8"]},"legend":null}}}
  ],
  "resolve":{"scale":{"x":"independent","y":"independent","color":"independent"}}},
 {"width":70,"height":16,
  "data":{"values":[{"r":"a","lab":"漲跌","val":""},{"r":"b","lab":"量","val":"294752張"}]},
  "encoding":{"y":{"field":"r","type":"nominal","sort":null,"scale":{"type":"band","domain":["a","b"],"range":[0,18],"paddingInner":0,"paddingOuter":0},"axis":null}},
  "layer":[
   {"mark":{"type":"text","align":"left","baseline":"middle","dx":4,"font":"Liberation Serif","fontSize":9.5,"color":"#e0e0e0"},
    "encoding":{"x":{"datum":0,"type":"quantitative","scale":{"domain":[0,1],"nice":false,"zero":false},"axis":null},"text":{"field":"lab"}}},
   {"mark":{"type":"text","align":"right","baseline":"middle","dx":-2,"font":"Liberation Serif","fontSize":9,"color":"#bcbcbc"},
    "encoding":{"x":{"datum":1,"type":"quantitative"},"text":{"field":"val"}}}
  ]},
 {"width":670,"height":16,
  "data":{"name":"mo"},
  "layer":[
   {"mark":{"type":"rule","color":"#d8c838","strokeWidth":1},
    "encoding":{"x":{"field":"i","type":"quantitative","scale":{"domain":[-0.661,48.53],"nice":false,"zero":false},"axis":null},
     "y":{"datum":1,"type":"quantitative","scale":{"domain":[0,1],"nice":false,"zero":false},"axis":null},"y2":{"datum":0.8}}},
   {"transform":[{"filter":"datum.i==0"}],"mark":{"type":"text","align":"left","baseline":"middle","dx":-6,"dy":-1,"font":"Liberation Sans","fontSize":9,"fontWeight":"bold","color":"#d8c838"},
    "encoding":{"x":{"field":"i","type":"quantitative"},"y":{"datum":0.5,"type":"quantitative"},"text":{"field":"t"}}},
   {"transform":[{"filter":"datum.i>0"}],"mark":{"type":"text","align":"center","baseline":"middle","dy":1,"font":"Liberation Sans","fontSize":9,"fontWeight":"bold","color":"#d8c838"},
    "encoding":{"x":{"field":"i","type":"quantitative"},"y":{"datum":0.5,"type":"quantitative"},"text":{"field":"t"}}}
  ]}
]
}
